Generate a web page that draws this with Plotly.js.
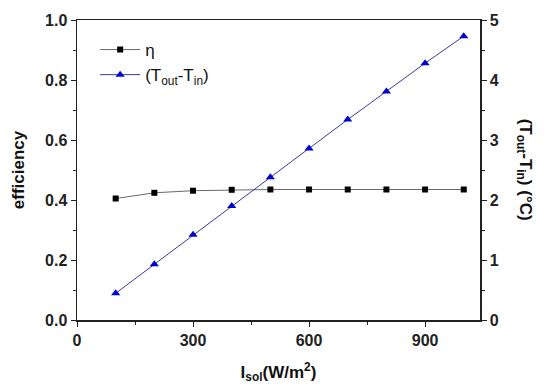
<!DOCTYPE html>
<html>
<head>
<meta charset="utf-8">
<script src="https://cdn.plot.ly/plotly-3.0.1.min.js"></script>
<style>html,body{margin:0;padding:0;background:#fff;}#chart{width:550px;height:392px;}</style>
</head>
<body>
<div id="chart"></div>
<script>
const irradiance = [100, 200, 300, 400, 500, 600, 700, 800, 900, 1000];
const efficiency = [0.405, 0.424, 0.431, 0.434, 0.435, 0.435, 0.435, 0.435, 0.435, 0.435];
const deltaT = [0.445, 0.93, 1.42, 1.90, 2.38, 2.86, 3.34, 3.81, 4.28, 4.73];
const etaName = 'η';
const dtName = '(T<sub>out</sub>-T<sub>in</sub>)';

const F = 'Liberation Sans, Arial, sans-serif';
const traces = [
  {x: irradiance, y: efficiency, name: etaName, type: 'scatter', mode: 'lines+markers',
   line: {color: '#6a6a6a', width: 1}, marker: {symbol: 'square', size: 6, color: '#000'}, yaxis: 'y'},
  {x: irradiance, y: deltaT, name: dtName, type: 'scatter', mode: 'lines+markers',
   line: {color: '#3a3aa0', width: 1}, marker: {symbol: 'triangle-up', size: 8, color: '#0000d0'}, yaxis: 'y2'}
];
const axCommon = {showgrid: false, zeroline: false, showline: true, linecolor: '#222', linewidth: 1.5,
  ticks: 'outside', ticklen: 5, tickcolor: '#222', tickwidth: 1,
  tickfont: {family: F, size: 16, color: '#222', weight: 'bold'}};
const layout = {
  width: 550, height: 392,
  margin: {l: 77, r: 70, t: 20, b: 72},
  paper_bgcolor: '#fff', plot_bgcolor: '#fff',
  showlegend: true,
  legend: {x: 0.045, y: 0.96, xanchor: 'left', yanchor: 'top', bgcolor: 'rgba(0,0,0,0)',
    font: {family: F, size: 17, color: '#111'}, tracegroupgap: 0, itemwidth: 40},
  xaxis: Object.assign({}, axCommon, {range: [0, 1042], tickvals: [0, 300, 600, 900], mirror: true,
    minor: {dtick: 150, tick0: 0, ticks: 'outside', ticklen: 3, tickcolor: '#222'},
    title: {text: 'I<sub>sol</sub>(W/m<sup>2</sup>)', font: {family: F, size: 17, color: '#111', weight: 'bold'}, standoff: 18}}),
  yaxis: Object.assign({}, axCommon, {range: [0, 1.0], dtick: 0.2, tickformat: '.1f',
    minor: {dtick: 0.1, ticks: 'outside', ticklen: 3, tickcolor: '#222'},
    title: {text: 'efficiency', font: {family: F, size: 17, color: '#111', weight: 'bold'}, standoff: 16}}),
  yaxis2: Object.assign({}, axCommon, {range: [0, 5], dtick: 1, overlaying: 'y', side: 'right',
    minor: {dtick: 0.5, ticks: 'outside', ticklen: 3, tickcolor: '#222'}}),
  annotations: [{xref: 'paper', yref: 'paper', x: 1.11, y: 0.5, xanchor: 'center', yanchor: 'middle',
    text: '(T<sub>out</sub>-T<sub>in</sub>) (°C)', textangle: 90, showarrow: false,
    font: {family: F, size: 17, color: '#111', weight: 'bold'}}]
};
Plotly.newPlot('chart', traces, layout, {staticPlot: true, displayModeBar: false});
</script>
</body>
</html>
